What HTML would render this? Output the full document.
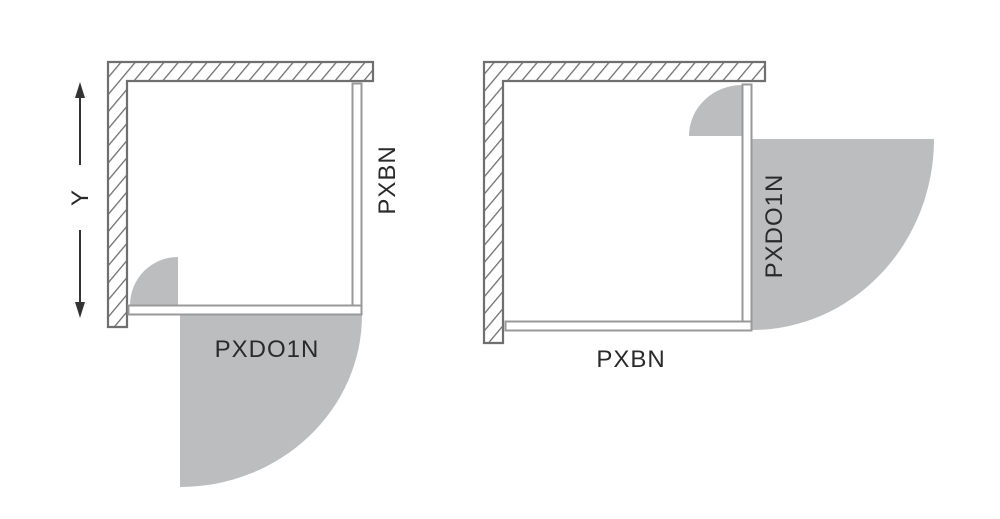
<!DOCTYPE html>
<html><head><meta charset="utf-8"><style>
html,body{margin:0;padding:0;background:#fff;}
svg{display:block;}
text{font-family:"Liberation Sans",sans-serif;fill:#2a2a2a;}
</style></head><body>
<svg width="1000" height="519" viewBox="0 0 1000 519" xmlns="http://www.w3.org/2000/svg">
<defs>
<pattern id="h" patternUnits="userSpaceOnUse" width="11" height="11" patternTransform="rotate(40)">
<rect width="11" height="11" fill="#fff"/>
<line x1="0" y1="0" x2="0" y2="11" stroke="#6f6f6f" stroke-width="2.6"/>
</pattern>
</defs>
<!-- LEFT DIAGRAM -->
<path d="M180,315 L362,315 A182,172 0 0 1 180,487 Z" fill="#bbbdbf"/>
<path d="M178,305 L130,305 A48,48 0 0 1 178,257 Z" fill="#bbbdbf"/>
<path d="M108,62 H373 V81 H127 V327 H108 Z" fill="url(#h)" stroke="#6f6f6f" stroke-width="2.2"/>
<rect x="352.5" y="83.5" width="9" height="230" fill="#fff" stroke="#999" stroke-width="2"/>
<rect x="128.5" y="305.5" width="233" height="9" fill="#fff" stroke="#999" stroke-width="2"/>
<line x1="80" y1="95" x2="80" y2="165" stroke="#333" stroke-width="2"/>
<polygon points="80,82 75,98 85,98" fill="#333"/>
<line x1="80" y1="230" x2="80" y2="305" stroke="#333" stroke-width="2"/>
<polygon points="80,318 75,302 85,302" fill="#333"/>
<text x="0" y="0" font-size="24" text-anchor="middle" transform="translate(88,198) rotate(-90)">Y</text>
<text x="0" y="0" font-size="24" text-anchor="middle" letter-spacing="1" transform="translate(395,180) rotate(-90)">PXBN</text>
<text x="267" y="357" font-size="24" text-anchor="middle" letter-spacing="1">PXDO1N</text>
<!-- RIGHT DIAGRAM -->
<path d="M752,139 L934,139 A182,191 0 0 1 752,330 Z" fill="#bbbdbf"/>
<path d="M742,136 L689,136 A53,51 0 0 1 742,85 Z" fill="#bbbdbf"/>
<path d="M484,62 H765 V81 H503 V343 H484 Z" fill="url(#h)" stroke="#6f6f6f" stroke-width="2.2"/>
<rect x="742.5" y="84.5" width="9" height="246" fill="#fff" stroke="#999" stroke-width="2"/>
<rect x="505.5" y="321.5" width="246" height="9" fill="#fff" stroke="#999" stroke-width="2"/>
<text x="0" y="0" font-size="24" text-anchor="middle" letter-spacing="1" transform="translate(782,226) rotate(-90)">PXDO1N</text>
<text x="631" y="367" font-size="24" text-anchor="middle" letter-spacing="1">PXBN</text>
</svg>
</body></html>
